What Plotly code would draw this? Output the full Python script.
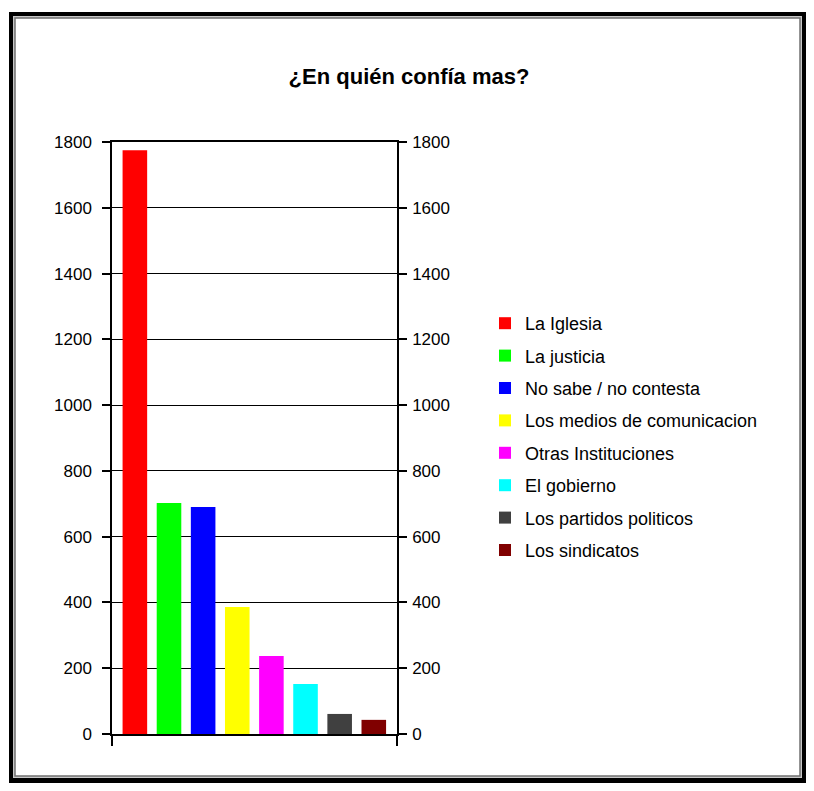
import plotly.graph_objects as go

# data
categories = [
    "La Iglesia",
    "La justicia",
    "No sabe / no contesta",
    "Los medios de comunicacion",
    "Otras Instituciones",
    "El gobierno",
    "Los partidos politicos",
    "Los sindicatos",
]
values = [1775, 702, 690, 386, 237, 152, 61, 43]
colors = ["#ff0000", "#00ff00", "#0000ff", "#ffff00", "#ff00ff", "#00ffff", "#404040", "#800000"]
y_ticks = [0, 200, 400, 600, 800, 1000, 1200, 1400, 1600, 1800]

# the page puts the figure 8px in from the top-left corner
OFF = 8
W, H = 814 - 2 * OFF, 791 - 2 * OFF
L, R, T, B = 112, 397, 142, 734  # plot area, reference pixels


def px(x):
    return (x - L) / (R - L)


def py(y):
    return (B - y) / (B - T)


x_lo, x_hi = -0.67, len(categories) - 1 + 0.68

fig = go.Figure()
for i, (cat, val, col) in enumerate(zip(categories, values, colors)):
    fig.add_trace(go.Bar(
        x=[i], y=[val], name=cat, marker=dict(color=col, line=dict(width=0)),
        legendgroup=cat, width=0.72,
    ))
# keeps the right-hand axis drawn
fig.add_trace(go.Scatter(x=[x_lo], y=[y_ticks[0]], yaxis="y2", mode="markers",
                         marker=dict(opacity=0), showlegend=False, hoverinfo="skip"))

family = "Liberation Sans, Arial, sans-serif"
tick_font = dict(family=family, size=17, color="#000")
axis_y = dict(
    range=[0, 1800], tickvals=y_ticks, ticks="outside", ticklen=8, tickwidth=1.5,
    tickcolor="#000", showline=True, linecolor="#000", linewidth=1.5,
    showgrid=True, gridcolor="#000", gridwidth=1, zeroline=False, tickfont=tick_font,
)

# frame with drop shadow
shapes = [
    dict(type="rect", xref="paper", yref="paper", x0=px(9), x1=px(830), y0=py(12), y1=py(800),
         fillcolor="#000", line=dict(width=0), layer="below"),
    dict(type="rect", xref="paper", yref="paper", x0=px(13), x1=px(802), y0=py(16), y1=py(778),
         fillcolor="#c8c8c8", line=dict(width=0), layer="below"),
    dict(type="rect", xref="paper", yref="paper", x0=px(15), x1=px(800), y0=py(18), y1=py(776),
         fillcolor="#fff", line=dict(color="#707070", width=1.5), layer="below"),
]

fig.update_layout(
    width=W, height=H,
    margin=dict(l=L - OFF, r=W - (R - OFF), t=T - OFF, b=H - (B - OFF), pad=0),
    paper_bgcolor="#fff", plot_bgcolor="rgba(0,0,0,0)",
    font=dict(family=family, color="#000"),
    barmode="overlay",
    showlegend=True,
    title=dict(text="<b>¿En quién confía mas?</b>", x=(409 - OFF) / W, xref="container",
               xanchor="center", y=1 - (76 - OFF) / H, yref="container", yanchor="middle",
               font=dict(size=22, family=family, color="#000")),
    xaxis=dict(range=[x_lo, x_hi], tickvals=[x_lo, x_hi],
               showticklabels=False, ticks="outside", ticklen=10, tickwidth=1.5, tickcolor="#000",
               showline=True, linecolor="#000", linewidth=1.5, mirror=True, showgrid=False,
               zeroline=False, fixedrange=True),
    yaxis=dict(axis_y, ticklabelstandoff=7),
    yaxis2=dict(axis_y, overlaying="y", side="right", showgrid=False, ticklabelstandoff=2),
    legend=dict(x=px(485), y=py(305), xanchor="left", yanchor="top",
                font=dict(size=18, family=family, color="#000"),
                traceorder="grouped", tracegroupgap=6, bgcolor="rgba(0,0,0,0)"),
    shapes=shapes,
)

fig.write_html("out.html")
